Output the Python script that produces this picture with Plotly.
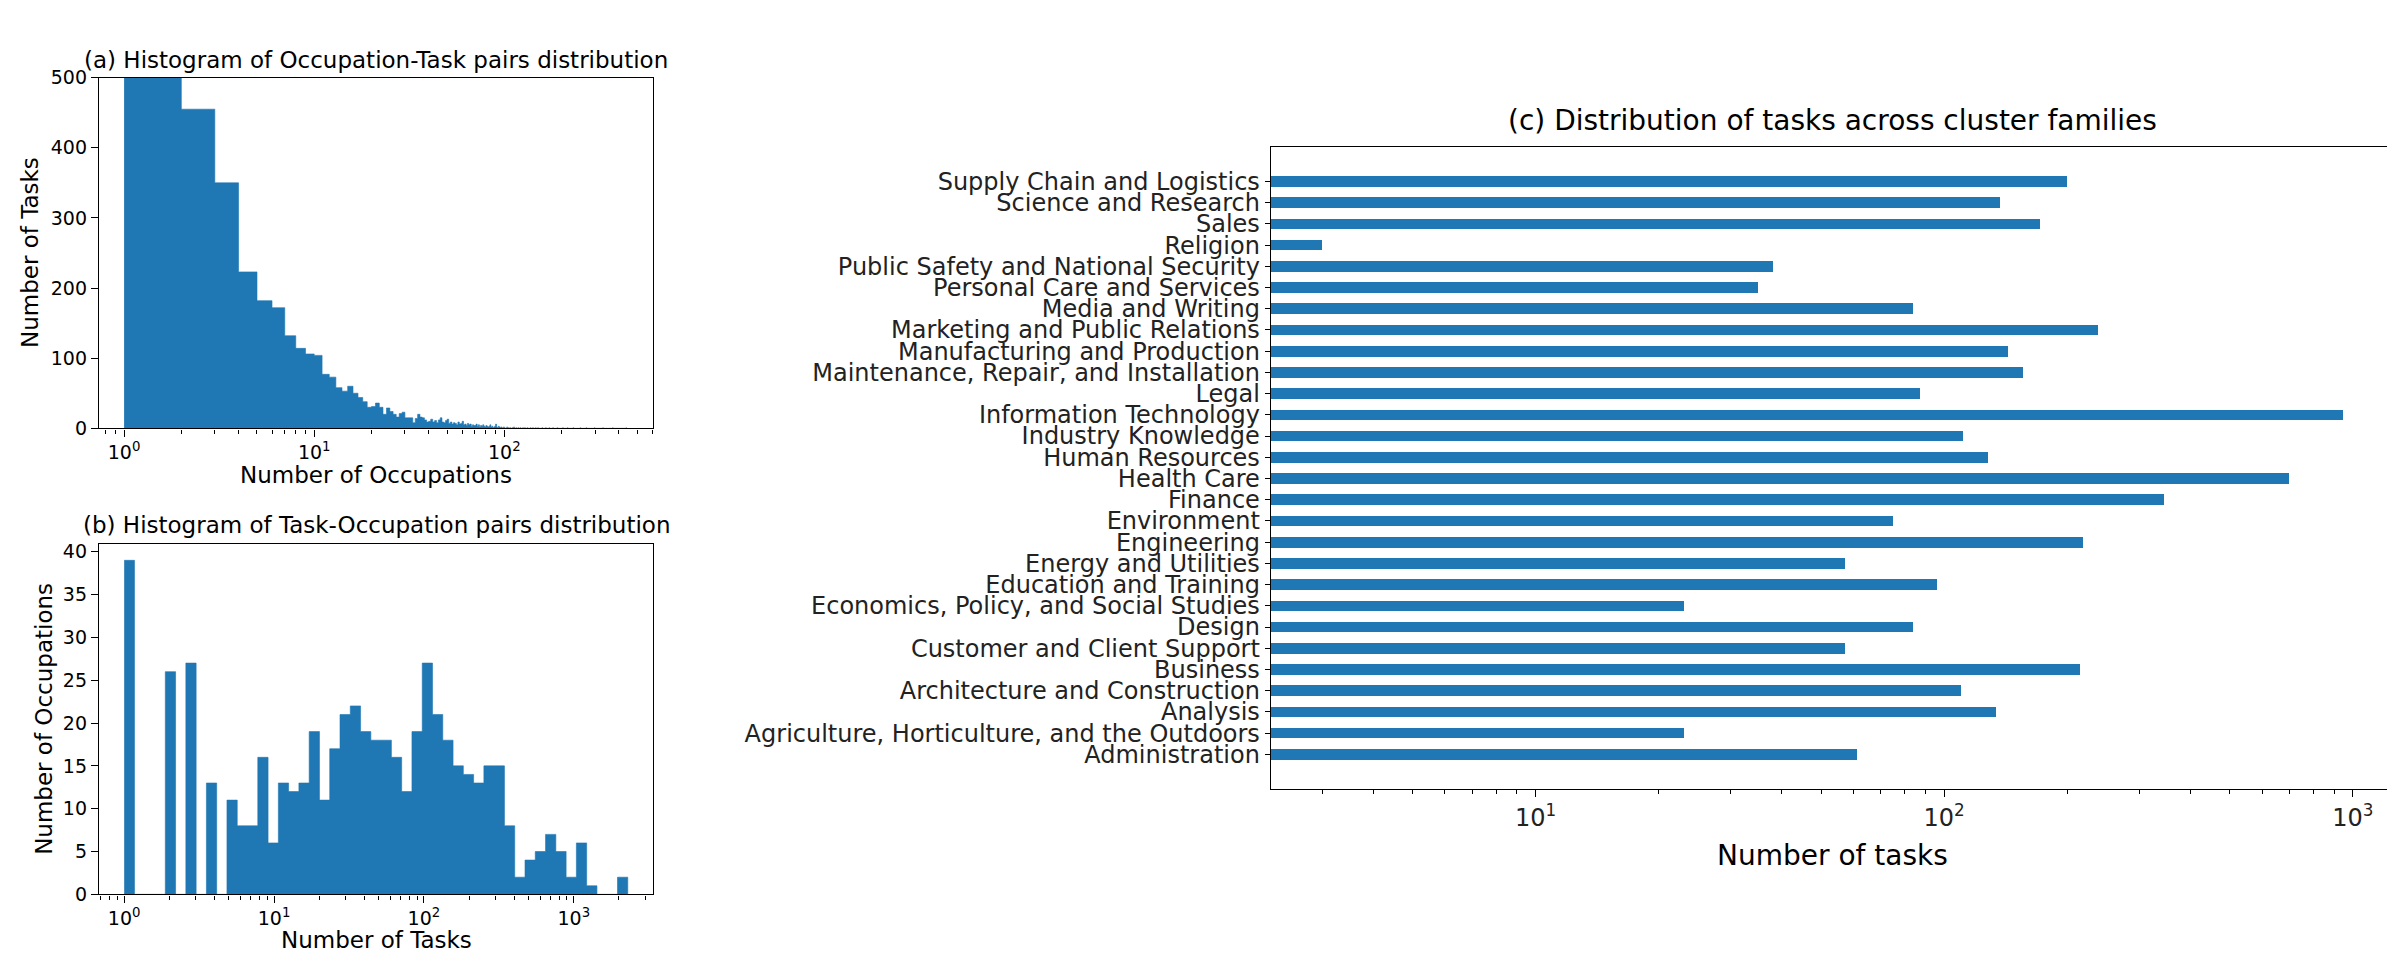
import numpy as np
import plotly.graph_objects as go

BLUE = "#1f77b4"
FONT = "DejaVu Sans"

# (a) number of tasks per "number of occupations" value, integer bins [k, k+1)
# bin 1 is far above the 500 cut-off of the axis
OCC_COUNTS = [
    1600, 455, 350, 223, 182, 172, 132, 114, 106, 104,   # 1-10
    77, 73, 58, 53, 60, 50, 44, 38, 30, 31,              # 11-20
    36, 30, 20, 29, 24, 20, 16, 21, 23, 15,              # 21-30
    15, 15, 8, 14, 20, 16, 15, 12, 9, 10,                # 31-40
    13, 9, 11, 8, 12, 15, 9, 8, 11, 13,                  # 41-50
    7, 9, 6, 8, 7, 5, 9, 6, 7, 10,                       # 51-60
    5, 6, 4, 7, 5, 6, 3, 5, 4, 4,                        # 61-70
    6, 3, 5, 2, 4, 3, 5, 3, 2, 4,                        # 71-80
    3, 2, 3, 5, 2, 3, 1, 2, 3, 6,                        # 81-90
    2, 1, 3, 2, 1, 2, 1, 0, 2, 1,                        # 91-100
]
OCC_TAIL_BINS = [103, 105, 107, 110, 112, 115, 118, 121, 125, 128, 132, 137,
                 141, 146, 150, 158, 165, 172, 180, 190, 203, 215, 230, 251,
                 270, 298, 330, 372, 438]
OCC_TAIL_COUNTS = [2, 1, 1, 1, 2, 1, 1, 1, 1, 1, 1, 1,
                   1, 1, 1, 1, 1, 1, 1, 1, 1, 1, 1, 1,
                   1, 1, 1, 1, 1]
OCC_MAX_EDGE = 440

# (b) number of occupations per log-spaced bin of "number of tasks" (49 bins)
TASK_MAX = 2290
TASK_COUNTS = [
    39, 0, 0, 0, 26, 0, 27, 0, 13, 0,
    11, 8, 8, 16, 6, 13, 12, 13, 19, 11,
    17, 21, 22, 19, 18, 18, 16, 12, 19, 27,
    21, 18, 15, 14, 13, 15, 15, 8, 2, 4,
    5, 7, 5, 2, 6, 1, 0, 0, 2,
]

# (c) tasks per cluster family
FAMILIES = [
    "Administration", "Agriculture, Horticulture, and the Outdoors", "Analysis",
    "Architecture and Construction", "Business", "Customer and Client Support",
    "Design", "Economics, Policy, and Social Studies", "Education and Training",
    "Energy and Utilities", "Engineering", "Environment", "Finance",
    "Health Care", "Human Resources", "Industry Knowledge",
    "Information Technology", "Legal", "Maintenance, Repair, and Installation",
    "Manufacturing and Production", "Marketing and Public Relations",
    "Media and Writing", "Personal Care and Services",
    "Public Safety and National Security", "Religion", "Sales",
    "Science and Research", "Supply Chain and Logistics",
]
FAMILY_TASKS = [61, 23, 134, 110, 215, 57, 84, 23, 96, 57, 219, 75, 345,
                698, 128, 111, 948, 87, 156, 143, 238, 84, 35, 38, 3, 171,
                137, 200]

# build histogram (a) on integer edges
occ_edges = np.arange(1, OCC_MAX_EDGE + 1)
occ_full = np.zeros(len(occ_edges) - 1)
occ_full[:len(OCC_COUNTS)] = OCC_COUNTS
for b, c in zip(OCC_TAIL_BINS, OCC_TAIL_COUNTS):
    occ_full[b - 1] = c

task_edges = np.logspace(0, np.log10(TASK_MAX), len(TASK_COUNTS) + 1)


def hist_trace(edges, counts, xa, ya):
    return go.Scatter(
        x=list(edges), y=list(counts) + [0],
        mode="lines", line=dict(shape="hv", width=0.6, color=BLUE),
        fill="tozeroy", fillcolor=BLUE, xaxis=xa, yaxis=ya,
        showlegend=False, hoverinfo="skip",
    )


def minor_vals(k0, k1):
    return [m * 10 ** k for k in range(k0, k1) for m in range(2, 10)]


def sup(k):
    return "10<sup>%d</sup>" % k


fig = go.Figure()
fig.add_trace(hist_trace(occ_edges, occ_full, "x", "y"))
fig.add_trace(hist_trace(task_edges, TASK_COUNTS, "x2", "y2"))
fig.add_trace(go.Bar(
    x=FAMILY_TASKS, y=FAMILIES, orientation="h", width=0.5,
    marker=dict(color=BLUE, line=dict(width=0)),
    xaxis="x3", yaxis="y3", showlegend=False,
))

axis_common = dict(showline=True, linecolor="black", linewidth=1.4, mirror=True,
                   showgrid=False, zeroline=False, ticks="outside",
                   tickcolor="black", tickwidth=1.3)
tick_small = dict(family=FONT, size=19, color="black")
tick_big = dict(family=FONT, size=24, color="#222222")

fig.update_layout(
    width=2395, height=954,
    margin=dict(l=0, r=0, t=0, b=0),
    paper_bgcolor="white", plot_bgcolor="white",
    bargap=0,
    xaxis=dict(axis_common, domain=[0.0380, 0.2693], type="log",
               range=[-0.132, 2.782], anchor="y", ticklen=7,
               tickvals=[1, 10, 100], ticktext=[sup(0), sup(1), sup(2)],
               tickfont=tick_small,
               minor=dict(tickvals=minor_vals(-1, 3), ticks="outside",
                          ticklen=4, tickcolor="black", tickwidth=1)),
    yaxis=dict(axis_common, domain=[0.5608, 0.9371], range=[0, 500],
               anchor="x", ticklen=7, tickvals=[0, 100, 200, 300, 400, 500],
               tickfont=tick_small),
    xaxis2=dict(axis_common, domain=[0.0380, 0.2693], type="log",
                range=[-0.168, 3.528], anchor="y2", ticklen=7,
                tickvals=[1, 10, 100, 1000],
                ticktext=[sup(0), sup(1), sup(2), sup(3)],
                tickfont=tick_small,
                minor=dict(tickvals=minor_vals(-1, 4), ticks="outside",
                           ticklen=4, tickcolor="black", tickwidth=1)),
    yaxis2=dict(axis_common, domain=[0.0608, 0.4371], range=[0, 40.95],
                anchor="x2", ticklen=7, tickvals=list(range(0, 41, 5)),
                tickfont=tick_small),
    xaxis3=dict(axis_common, domain=[0.5273, 0.9971], type="log",
                range=[0.352, 3.106], anchor="y3", ticklen=7,
                tickvals=[10, 100, 1000], ticktext=[sup(1), sup(2), sup(3)],
                tickfont=tick_big,
                minor=dict(tickvals=minor_vals(0, 4), ticks="outside",
                           ticklen=4, tickcolor="black", tickwidth=1)),
    yaxis3=dict(axis_common, domain=[0.1740, 0.8627], type="category",
                range=[-1.625, 28.625], anchor="x3", ticklen=5,
                tickmode="array", tickvals=FAMILIES, ticktext=FAMILIES,
                tickfont=tick_big),
)

notes = [
    ("(a) Histogram of Occupation-Task pairs distribution", 0.1537, 0.956, 0, 23),
    ("Number of Occupations", 0.1537, 0.5108, 0, 23),
    ("Number of Tasks", 0.0092, 0.749, -90, 23),
    ("(b) Histogram of Task-Occupation pairs distribution", 0.1537, 0.457, 0, 23),
    ("Number of Tasks", 0.1537, 0.0115, 0, 23),
    ("Number of Occupations", 0.0150, 0.249, -90, 23),
    ("(c) Distribution of tasks across cluster families", 0.762, 0.8915, 0, 28),
    ("Number of tasks", 0.762, 0.1027, 0, 28),
]
for text, x, y, ang, size in notes:
    fig.add_annotation(text=text, x=x, y=y, xref="paper", yref="paper",
                       xanchor="center", yanchor="middle", textangle=ang,
                       showarrow=False,
                       font=dict(family=FONT, size=size, color="black"))

fig.write_html("out.html")
